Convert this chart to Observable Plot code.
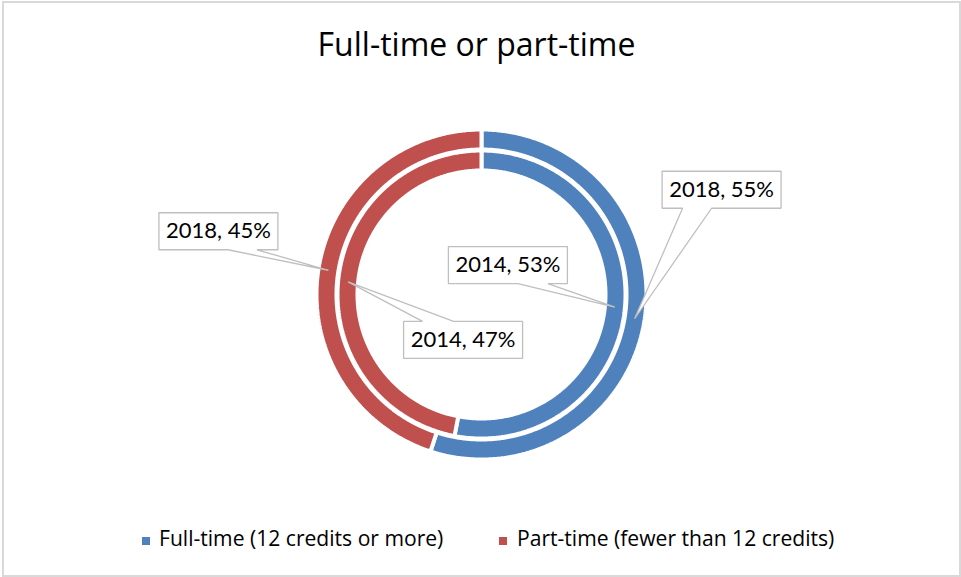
<!DOCTYPE html>
<html>
<head>
<meta charset="utf-8">
<script src="https://cdn.jsdelivr.net/npm/d3@7"></script>
<script src="https://cdn.jsdelivr.net/npm/@observablehq/plot@0.6"></script>
<style>
  html, body { margin: 0; padding: 0; background: #fff; }
  body { width: 961px; height: 577px; position: relative; overflow: hidden; font-family: "Open Sans", Lato, sans-serif; }
  #frame { position: absolute; left: 2px; top: 1px; width: 959px; height: 576px; border: 2px solid #D9D9D9; box-sizing: border-box; }
  #title { position: absolute; left: 0; top: 28.3px; width: 953px; text-align: center; font-size: 32px; line-height: 32px; color: #000; white-space: nowrap; }
  #chart { position: absolute; left: 0; top: 90px; width: 961px; height: 420px; }
  .lg { position: absolute; top: 527.4px; font-size: 21.1px; line-height: 21px; color: #000; white-space: nowrap; }
  .sw { position: absolute; top: 537px; width: 8px; height: 8px; }
</style>
</head>
<body>
<div id="frame"></div>
<div id="title"></div>
<div id="chart"></div>
<div id="legend"></div>
<script>
// ---- data ----
const chartTitle = "Full-time or part-time";
const categories = ["Full-time (12 credits or more)", "Part-time (fewer than 12 credits)"];
const years = ["2014", "2018"];            // inner ring, outer ring
const values2014 = [53, 47];
const values2018 = [55, 45];
const colors = ["#4F81BD", "#C0504D"];

// ---- layout (style only) ----
const W = 961, H = 420;
const ringGeom = {"2014": {r0: 124, r1: 144, rm: 134}, "2018": {r0: 145, r1: 165, rm: 155}};
// callout box center offsets from anchor, wedge base points relative to box center
const calloutLayout = {
  "2018-0": {dx: 87, dy: -129, base: [[-39, 18.5], [-10, 18.5]]},
  "2014-0": {dx: -107, dy: -42, base: [[10, 18.5], [40, 18.5]]},
  "2018-1": {dx: -110, dy: -39, base: [[9.5, 18.5], [38.5, 18.5]]},
  "2014-1": {dx: 115, dy: 58, base: [[-40.5, -18.5], [-9.5, -18.5]]}
};
const boxW = 119, boxH = 37;

const ringValues = {"2014": values2014, "2018": values2018};
const pt = (r, a) => [r * Math.sin(a * Math.PI / 180), -r * Math.cos(a * Math.PI / 180)];

const slices = [];
const callouts = [];
for (const year of years) {
  const vals = ringValues[year];
  const total = d3.sum(vals);
  const g = ringGeom[year];
  let acc = 0;
  vals.forEach((v, i) => {
    const a0 = acc / total * 360;
    acc += v;
    const a1 = acc / total * 360;
    const pts = [];
    const n = Math.max(2, Math.ceil((a1 - a0) / 0.5));
    for (let k = 0; k <= n; k++) { const [x, y] = pt(g.r1, a0 + (a1 - a0) * k / n); pts.push({x, y}); }
    for (let k = n; k >= 0; k--) { const [x, y] = pt(g.r0, a0 + (a1 - a0) * k / n); pts.push({x, y}); }
    pts.push(pts[0]);
    slices.push({color: colors[i], pts});
    const mid = (a0 + a1) / 2;
    const [ax, ay] = pt(g.rm, mid);
    const lay = calloutLayout[year + "-" + i];
    const cx = ax + lay.dx, cy = ay + lay.dy;
    const hw = boxW / 2, hh = boxH / 2;
    const b1 = [cx + lay.base[0][0], cy + lay.base[0][1]];
    const b2 = [cx + lay.base[1][0], cy + lay.base[1][1]];
    let shape;
    if (lay.base[0][1] > 0) {
      shape = [[cx - hw, cy - hh], [cx + hw, cy - hh], [cx + hw, cy + hh], b2, [ax, ay], b1, [cx - hw, cy + hh], [cx - hw, cy - hh]];
    } else {
      shape = [[cx - hw, cy - hh], b1, [ax, ay], b2, [cx + hw, cy - hh], [cx + hw, cy + hh], [cx - hw, cy + hh], [cx - hw, cy - hh]];
    }
    callouts.push({label: `${year}, ${v}%`, cx, cy, shape: shape.map(([x, y]) => ({x, y}))});
  });
}

const marks = [];
for (const s of slices) {
  marks.push(Plot.line(s.pts, {x: "x", y: "y", fill: s.color, stroke: "white", strokeWidth: 4, strokeLinejoin: "miter", curve: "linear"}));
}
for (const c of callouts) {
  marks.push(Plot.line(c.shape, {x: "x", y: "y", fill: "white", stroke: "#BFBFBF", strokeWidth: 1.3, strokeLinejoin: "miter", curve: "linear"}));
}
marks.push(Plot.text(callouts, {x: "cx", y: "cy", text: "label", fontSize: 22, fontFamily: "Lato", fill: "#000"}));

const svg = Plot.plot({
  width: W, height: H,
  margin: 0,
  x: {domain: [-481, 480], range: [0, W], axis: null},
  y: {domain: [-204, 216], range: [0, H], axis: null},
  style: {background: "transparent", overflow: "visible"},
  marks
});
document.getElementById("chart").appendChild(svg);
document.getElementById("title").textContent = chartTitle;

const legendPos = [{sw: 142, tx: 159}, {sw: 499, tx: 517}];
const legend = document.getElementById("legend");
categories.forEach((c, i) => {
  const sw = document.createElement("div");
  sw.className = "sw"; sw.style.left = legendPos[i].sw + "px"; sw.style.background = colors[i];
  const tx = document.createElement("div");
  tx.className = "lg"; tx.style.left = legendPos[i].tx + "px"; tx.textContent = c;
  legend.appendChild(sw); legend.appendChild(tx);
});
</script>
</body>
</html>
